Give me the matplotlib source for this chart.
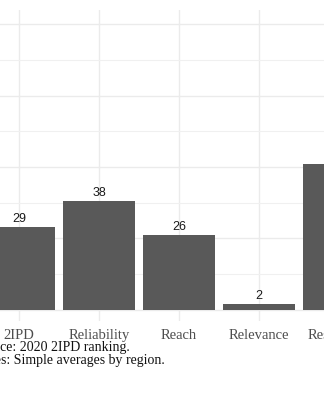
import matplotlib.pyplot as plt
import numpy as np

# Data (chart is a crop of a wider figure)
categories = ["2IPD", "Reliability", "Reach", "Relevance", "Resonance"]
values = [29, 38, 26, 2, 51]
caption = ["Source: 2020 2IPD ranking.", "Notes: Simple averages by region."]

W, H = 324, 400
fig = plt.figure(figsize=(W / 100, H / 100), dpi=100)

# axes placed so only part of the panel falls inside the figure
step = 80.0        # px per category
x0 = 19.0          # px position of first category
xlo, xhi = -0.6, 4.6
top_px, bot_px = 10, 321
left = (x0 + xlo * step) / W
width = (xhi - xlo) * step / W
ax = fig.add_axes([left, (H - bot_px) / H, width, (bot_px - top_px) / H])

x = np.arange(len(categories))
ax.bar(x, values, width=0.9, color="#595959", zorder=2)
for xi, v in zip(x, values):
    ax.text(xi, v + 0.8, str(v), ha="center", va="bottom",
            fontsize=9, family="Liberation Sans", color="#1a1a1a", zorder=3)

ax.set_xlim(xlo, xhi)
ax.set_ylim(-4, 105)
ax.set_xticks(x)
ax.set_xticklabels(categories, family="Liberation Serif", fontsize=10.5, color="#4d4d4d")
ax.set_yticks([0, 25, 50, 75, 100])
ax.set_yticks([12.5, 37.5, 62.5, 87.5], minor=True)
ax.tick_params(axis="both", which="both", length=0)
ax.tick_params(axis="x", pad=5.5)
ax.set_yticklabels([])
ax.grid(True, which="major", color="#ebebeb", linewidth=1.0, zorder=0)
ax.grid(True, which="minor", axis="y", color="#f0f0f0", linewidth=0.8, zorder=0)
for s in ax.spines.values():
    s.set_visible(False)

fig.text(-26 / W, 1 - 347.5 / H, caption[0], family="Liberation Serif",
         fontsize=10, color="#111111", va="center", ha="left")
fig.text(-26 / W, 1 - 360.5 / H, caption[1], family="Liberation Serif",
         fontsize=10, color="#111111", va="center", ha="left")

fig.savefig("out.png", dpi=100)
